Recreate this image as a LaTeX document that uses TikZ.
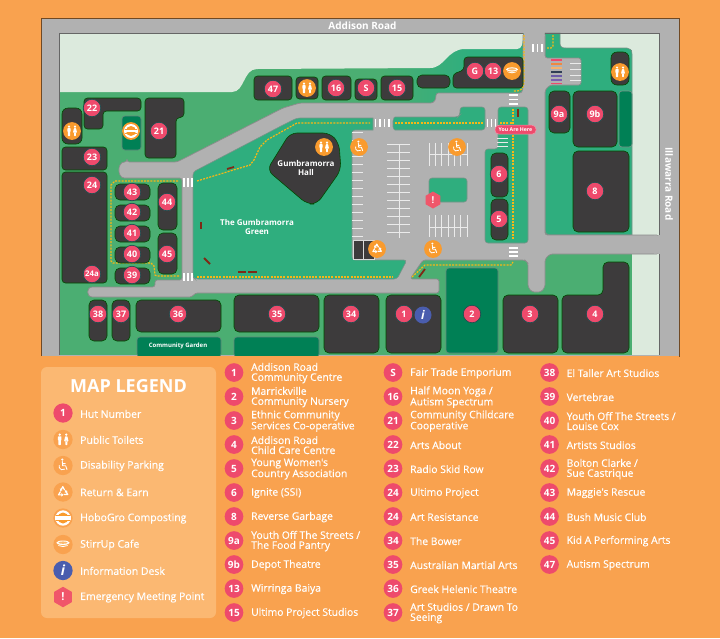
\documentclass[tikz,border=0pt]{standalone}
\usepackage{fontspec}
\setmainfont{Open Sans}
\newfontfamily\semi[FakeBold=0.45]{Open Sans}
\usetikzlibrary{shapes.geometric,arrows.meta,calc}
\definecolor{bgor}{HTML}{F9A24F}
\definecolor{panel}{HTML}{FBB872}
\definecolor{basegr}{HTML}{4BAE72}
\definecolor{tealgr}{HTML}{2FAE7E}
\definecolor{deepgr}{HTML}{008055}
\definecolor{palegr}{HTML}{DCEADD}
\definecolor{roadgr}{HTML}{B1B1B1}
\definecolor{edgegr}{HTML}{8C8C8C}
\definecolor{bldgc}{HTML}{3D3B3C}
\definecolor{pink}{HTML}{EE4A6C}
\definecolor{icor}{HTML}{F99B2E}
\definecolor{dashy}{HTML}{F7B716}
\definecolor{bench}{HTML}{7E2A16}
\definecolor{halo}{HTML}{1E4F50}
\definecolor{infob}{HTML}{4A5DAE}
\definecolor{hexr}{HTML}{F0566A}
\tikzset{
 roadsty/.style={fill=roadgr,draw=edgegr,line width=.7pt,rounded corners=2.5pt},
 greenblk/.style={fill=tealgr,draw=edgegr!80!tealgr,line width=.6pt,rounded corners=3pt},
 deepblk/.style={fill=deepgr,draw=edgegr!70!deepgr,line width=.6pt,rounded corners=3pt},
 bldg/.style={fill=bldgc,draw=black!70!green,line width=.6pt,rounded corners=3.5pt},
 parkline/.style={draw=white!92!black,line width=.7pt},
 zebra/.style={draw=white,line width=1.3pt},
 path dot/.style={draw=dashy,line width=1.2pt,dash pattern=on 2pt off 1.2pt},
 benchline/.style={draw=bench,line width=1.8pt},
 mapbadge/.style={circle,fill=pink,draw=halo,line width=.7pt,minimum size=17.5pt,inner sep=0pt,text=white,font=\fontsize{9}{9}\selectfont\bfseries},
 icobase/.style={circle,fill=icor,minimum size=#1,inner sep=0pt},
 listbadge/.style={circle,fill=pink,minimum size=18.7pt,inner sep=0pt,text=white,font=\fontsize{10}{10}\selectfont\bfseries},
 listtext/.style={anchor=west,align=left,inner sep=0pt,yshift=-.6pt,text=white,font=\fontsize{10.35}{10}\selectfont\semi},
 legtext/.style={anchor=west,inner sep=0pt,yshift=-.4pt,text=white,font=\fontsize{10.45}{10}\selectfont\semi},
 maptitle/.style={text=white,align=center,inner sep=0pt,font=\fontsize{#1}{#1}\selectfont\bfseries},
 pics/wc/.style={code={
   \fill[white] (-0.6,-5.4) circle (1.1);
   \draw[white,line width=.9pt,line join=round,line cap=round] (-0.6,-3.6) -- (-0.3,0.2) -- (2.4,0.2) -- (3.6,3.6) (-0.5,-1.7) -- (2,-1.7);
   \draw[white,line width=.8pt] (-3.4,-0.4) arc[start angle=200,end angle=50,radius=3.3];
 }},
 pics/toil/.style={code={
   \fill[white] (-3,-4.4) circle (1.15) (3,-4.4) circle (1.15);
   \fill[white,rounded corners=.5pt] (-4.6,-2.9) rectangle (-1.4,0.8) (-4.1,0.5) rectangle (-1.9,5);
   \fill[white,rounded corners=.5pt] (2,-2.9) -- (4,-2.9) -- (5,1.6) -- (1,1.6) -- cycle (2.1,1) rectangle (3.9,5);
 }},
 pics/rec/.style={code={
   \foreach \a in {0,120,240}{
    \begin{scope}[rotate=\a]
     \draw[white,line width=1.2pt,line join=round,-{Triangle[width=3.2pt,length=2pt]}] (-2.2,-0.5) -- (-4.1,2.6) -- (0.4,2.6);
    \end{scope}}
 }},
 pics/cup/.style={code={
   \fill[white] (-6,-1.6) .. controls (-5,3.6) and (5,3.6) .. (6,-1.6) -- cycle;
   \fill[white] (0,-1.6) ellipse (6 and 2);
   \fill[icor!70!white] (0,-1.7) ellipse (4.2 and 1.1);
   \draw[icor,line width=.5pt] (-5.8,-.6) .. controls (-3,1.4) and (3,1.4) .. (5.8,-.6);
 }},
 pics/hobo/.style={code={
   \fill[white] (0,0) circle (7);
   \fill[icor] (0,0) circle (5);
   \fill[white] (-7,-1.4) rectangle (7,1.4);
   \draw[icor,line width=.9pt] (-6.2,-2) -- (6.2,-2) (-6.2,2) -- (6.2,2);
 }},
}
\newcommand{\mbg}[3]{\node[mapbadge] (m#1) at (#2) {#3};}
\newcommand{\icn}[3]{\node[icobase=17.8pt] (i#1) at (#2) {}; \pic at (i#1.center) {#3};}
\newcommand{\rwl}[5]{\node[listbadge] (r#1) at (#2,#3) {#4}; \node[listtext] (t#1) at (#2+17,#3) {#5};}
\newcommand{\lgd}[3]{\node[legtext] (lt#1) at (80,#2) {#3};}
\begin{document}
\begin{tikzpicture}[x=1pt,y=-1pt]
\useasboundingbox (0,0) rectangle (720,638);
\fill[bgor] (0,0) rectangle (720,638);
% ring and base
\fill[roadgr,draw=black!55!bgor,line width=.6pt] (41,18) rectangle (679,356);
\fill[basegr] (59,33) rectangle (659,355);
\shade[left color=basegr,right color=tealgr] (380,40) rectangle (470,105);
\fill[tealgr] (470,40) rectangle (527,105);
% pale
\fill[palegr] (59.5,34) -- (59.5,92) -- (232,92) .. controls (245,92) and (243,69) .. (257,69) -- (430,68) .. controls (445,68) and (447,49) .. (465,49) -- (517,49) .. controls (522,49) and (523,44) .. (523,34) -- cycle;
\fill[palegr] (632,34) rectangle (659,355);
\fill[palegr] (545,34) rectangle (632,50);
% right teal block
\path[greenblk,sharp corners] (545,33) -- (560,33) -- (560,43) .. controls (560,47) and (562,48) .. (566,48) -- (627,48) .. controls (630,48) and (632,50) .. (632,54) -- (632,235) -- (550,235) .. controls (547,235) and (545,233) .. (545,230) -- (545,33) -- cycle;
% roads
\path[roadsty] (127,162) -- (177,162) -- (283,108) -- (300,103) -- (428,103) .. controls (434,103) and (436,100) .. (436,93) -- (517,93) .. controls (523,93) and (523,88) .. (523,82) -- (523,33) -- (545,33) -- (545,58) -- (581,58) -- (581,85) -- (550,85) -- (545,90) -- (545,235) -- (659,235) -- (659,254) -- (550,254) -- (545,259) -- (545,287) -- (541,292) -- (532,292) -- (528,287) -- (528,263) -- (525,260) -- (423,260) -- (410,279) -- (439,279) -- (439,293) -- (195,293) -- (192,297) -- (95,297) .. controls (86,297) and (86,287) .. (95,287) -- (155,287) -- (155,280) -- (182,280) -- (182,178) -- (127,178) .. controls (117,178) and (117,162) .. (127,162) -- cycle;
\fill[roadgr] (524,28) rectangle (544.6,36) (654,235.5) rectangle (664,253.5);
% inner border line of ring
\draw[black!60,line width=.7pt] (59,33) -- (523,33) (545,33) -- (659,33) -- (659,235) (659,254) -- (659,355) (59,33) -- (59,355);
% teal fields
\path[greenblk] (193,172) -- (283,125) -- (297,118) -- (370,118) .. controls (373,118) and (373,121) .. (373,124) .. controls (373,128) and (373,130) .. (370,130) -- (352,130) -- (352,260) -- (407,260) -- (397,279) -- (195,279) -- (193,277) -- cycle;
\path[greenblk] (393,124) .. controls (393,118) and (395,117) .. (398,117) -- (458,117) -- (460,115) -- (460,107) -- (485,107) -- (485,130) -- (398,130) .. controls (395,130) and (393,129) .. (393,124) -- cycle;
\path[greenblk] (498,107) -- (528,107) -- (528,243) -- (485,243) -- (485,149) -- (498,149) -- cycle;
\path[greenblk] (429,178) -- (467,178) -- (467,202) -- (429,202) -- cycle;
\path[greenblk,fill=deepgr] (619,91) rectangle (632,147);
\path[deepblk] (122,116) rectangle (141,150);
\path[deepblk] (446,268) rectangle (498,353);
\path[deepblk] (137,337) -- (137,357) -- (221,357) -- (221,337) -- cycle;
\path[deepblk] (234,337) -- (234,357) -- (319,357) -- (319,337) -- cycle;
\fill[bgor] (41,356.3) rectangle (679,362);
% parking
\foreach \y in {132,140,148,156,164,172,180,188,196,204,212,220,228,236} \draw[parkline] (352,\y) -- (363,\y);
\foreach \y in {144,152,160,168,176,184,192,200,208,216,224,232} \draw[parkline] (387,\y) -- (410,\y);
\draw[parkline] (399,144) -- (399,238);
\foreach \x in {429,435.3,441.6,448,454.3,460.6,467} {\draw[parkline] (\x,143) -- (\x,166); \draw[parkline] (\x,215) -- (\x,237);}
\draw[parkline] (429,154) -- (467,154) (429,227) -- (467,227);
\foreach \y in {138,142,146} \draw[parkline] (497,\y) -- (508,\y);
\foreach \y in {63,69,75,80.5} \draw[parkline] (570,\y) -- (581,\y);
\foreach \y/\c in {60/EE4A6C,64/F0883E,68/F6B26B,72/2F3E55,76/6A5AA8,80/7A5FB0,83.5/EE4A6C} {\definecolor{tmpc}{HTML}{\c}\draw[tmpc,line width=1.2pt] (551,\y) -- (562,\y);}
\fill[bldgc] (353.5,241) rectangle (374,259);
\draw[white!85!black,line width=.6pt] (353,240.5) rectangle (374.5,259.5) (363.7,240.5) -- (363.7,259.5);
% zebras
\foreach \x in {375.5,380,384.5,389} \draw[zebra] (\x,119) -- (\x,127);
\foreach \x in {487.5,491.5,495.5} \draw[zebra] (\x,119) -- (\x,127);
\foreach \x in {533,537.5,542} \draw[zebra] (\x,44) -- (\x,52);
\foreach \x in {184,188,192} {\draw[zebra] (\x,178) -- (\x,187); \draw[zebra] (\x,273) -- (\x,281);}
\foreach \y in {95,99.5,104} \draw[zebra] (509,\y) -- (518,\y);
\foreach \y in {248,252,256} \draw[zebra] (509,\y) -- (518,\y);
% dotted paths
\draw[path dot] (197,181) -- (250,165) -- (254,160) -- (260,147) -- (267,140) -- (297,123) -- (370,123);
\draw[path dot] (395,123) -- (483,123);
\draw[path dot] (500,123) -- (513,123);
\draw[path dot] (513,109) -- (513,240);
\draw[path dot] (524,35) -- (524,82) .. controls (524,88) and (521,91) .. (517,91) -- (513,91);
\draw[path dot] (553,35) -- (553,46) -- (551,48) -- (547,48);
\draw[path dot] (197,277) -- (393,277);
\draw[path dot] (178,181) -- (115,181) -- (111,185) -- (111,261) -- (113,263) -- (151,263) -- (154,266) -- (155,275) -- (157,276) -- (180,276);
\draw[path dot] (412,277) -- (425,265) -- (511,265) -- (513,262);
% benches
\draw[benchline] (227,169) -- (234,167);
\draw[benchline] (200.7,222) -- (200.7,229);
\draw[benchline] (204,258) -- (210,264);
\draw[benchline] (238,272) -- (246,272);
\draw[benchline] (248,272) -- (257,272);
\draw[benchline] (419,277) -- (425,269);
\draw[benchline,line width=2.2pt] (518,109) -- (518,117);
% buildings
\path[bldg] (254,76) rectangle (292,100);
\path[bldg] (296,77) rectangle (318,99);
\path[bldg] (322,76) rectangle (351,100);
\path[bldg] (355,79) rectangle (377,100);
\path[bldg] (381,76) rectangle (413,100);
\path[bldg,rounded corners=5pt] (417,75) rectangle (450,88);
\path[bldg] (464,57) -- (523,57) -- (523,88) -- (453,88) -- (453,74) -- (464,70) -- cycle;
\path[bldg] (84,98) -- (141,98) -- (141,111) -- (103,111) -- (103,129) -- (84,129) -- cycle;
\path[bldg,rounded corners=6pt] (62,108) rectangle (82,144);
\path[bldg] (62,147) rectangle (107,170);
\path[bldg] (62,172) rectangle (107,283);
\path[bldg] (145,98) -- (184,98) -- (184,117) -- (176,118) -- (176,158) -- (145,158) -- cycle;
\path[bldg,rounded corners=7pt] (290,133) -- (330,133) -- (339,143) -- (341,170) -- (317,204) -- (307,204) -- (267,170) -- cycle;
\foreach \y/\e in {184/200,205/221,226/242,247/263,268/284} \path[bldg,rounded corners=5pt] (115,\y) rectangle (150,\e);
\path[bldg,rounded corners=5pt] (158,183) rectangle (177,230);
\path[bldg,rounded corners=5pt] (158,233) rectangle (177,274);
\path[bldg,rounded corners=5pt] (89,300) rectangle (107,341);
\path[bldg,rounded corners=5pt] (112,300) rectangle (130,341);
\path[bldg,rounded corners=5pt] (136,300) rectangle (221,332);
\path[bldg,rounded corners=5pt] (234,295) rectangle (319,332);
\path[bldg,rounded corners=5pt] (324,295) rectangle (379,353);
\path[bldg,rounded corners=5pt] (386,295) rectangle (441,353);
\path[bldg,rounded corners=5pt] (503,295) rectangle (558,353);
\path[bldg,rounded corners=5pt] (562,295) -- (603,295) -- (603,262) -- (629,262) -- (629,353) -- (562,353) -- cycle;
\path[bldg,rounded corners=5pt] (491,153) rectangle (508,197);
\path[bldg,rounded corners=5pt] (491,199) rectangle (508,240);
\path[bldg,rounded corners=5pt] (549,91) rectangle (570,133);
\path[bldg,rounded corners=5pt] (573,91) rectangle (617,147);
\path[bldg,rounded corners=5pt] (573,151) rectangle (629,232);
\path[bldg,rounded corners=6pt] (611,52) rectangle (629,85);
% map labels
\node[maptitle=10] (addison) at (362.5,26) {Addison Road};
\node[maptitle=10,rotate=-90] (illa) at (669,184) {Illawarra Road};
\node[maptitle=8] (hall) at (306,167.5) {Gumbramorra\\[1pt]Hall};
\node[maptitle=8] (green) at (257,227) {The Gumbramorra\\[1.5pt]Green};
\node[maptitle=6] (cg) at (178,346) {Community Garden};
\node[rounded corners=4pt,fill=pink,draw=white!40!pink,line width=.5pt,minimum width=41pt,minimum height=9pt,inner sep=0pt,text=white,font=\fontsize{5.2}{6}\selectfont\bfseries] (here) at (515.5,129.7) {You Are Here};
% map badges
\mbg{47}{273,89}{47} \mbg{16}{336,88}{16} \mbg{S}{366,88}{S} \mbg{15}{397,88}{15}
\mbg{G}{475,71}{G} \mbg{13}{493,71}{13}
\mbg{22}{92,108}{22} \mbg{21}{159,131}{21} \mbg{23}{92,157}{23} \mbg{24}{92,185}{24} \mbg{24a}{92,274}{\fontsize{7.8}{8}\selectfont 24a}
\mbg{44}{167,202}{44} \mbg{45}{167,254}{45}
\mbg{43}{132,192}{43} \mbg{42}{132,212}{42} \mbg{41}{132,233}{41} \mbg{40}{132,254}{40} \mbg{39}{132,275}{39}
\mbg{38}{98,314}{38} \mbg{37}{121,314}{37} \mbg{36}{178,314}{36} \mbg{35}{277,314}{35} \mbg{34}{351,314}{34}
\mbg{1}{404,314}{1} \mbg{2}{472,314}{2} \mbg{3}{530,314}{3} \mbg{4}{595,314}{4}
\mbg{8}{595,191}{8} \mbg{5}{499,219}{5} \mbg{6}{499,174}{6} \mbg{9a}{559,114}{9a} \mbg{9b}{595,114}{9b}
\icn{t1}{307,88}{toil} \icn{t2}{72,131}{toil} \icn{t3}{324,147}{toil} \icn{t4}{620,72}{toil}
\icn{d1}{359,147}{wc} \icn{d2}{457,147}{wc} \icn{d3}{433,249}{wc}
\icn{rc}{377,249}{rec}
\icn{cp}{512,71}{cup}
\icn{hb}{131,131}{hobo}
\node[circle,fill=infob,minimum size=17pt,inner sep=0pt,text=white,font=\fontsize{12}{12}\selectfont\bfseries\itshape] (minfo) at (423,315) {i};
\node[regular polygon,regular polygon sides=6,shape border rotate=30,minimum size=17pt,inner sep=0pt,fill=hexr,text=white,font=\fontsize{9.5}{9.5}\selectfont\bfseries] (mex) at (433,200) {!};
% legend panel
\fill[panel,rounded corners=6pt] (41,367) rectangle (216,618);
\node[maptitle=18] (ltitle) at (128.5,386) {MAP LEGEND};
\node[listbadge,minimum size=19.3pt] (l1) at (63,413) {1};
\foreach \n/\y/\p in {toi/439.5/toil,dis/465.5/wc,ret/492/rec,hob/518/hobo,caf/544.5/cup}{
 \node[circle,fill=bgor,minimum size=19.3pt,inner sep=0pt] (l\n) at (63,\y) {};
 \pic[scale=1.1] at (l\n.center) {\p};
}
\node[circle,fill=infob,minimum size=19.3pt,inner sep=0pt,text=white,font=\fontsize{14}{14}\selectfont\bfseries\itshape] (linf) at (63,570.5) {i};
\node[regular polygon,regular polygon sides=6,shape border rotate=30,minimum size=20.5pt,inner sep=0pt,fill=hexr,text=white,font=\fontsize{11}{11}\selectfont\bfseries] (lex) at (63,597) {!};
\lgd{1}{413.5}{Hut Number}
\lgd{2}{439.5}{Public Toilets}
\lgd{3}{465.5}{Disability Parking}
\lgd{4}{492}{Return \& Earn}
\lgd{5}{518}{HoboGro Composting}
\lgd{6}{544.5}{StirrUp Cafe}
\lgd{7}{570.5}{Information Desk}
\lgd{8}{597}{Emergency Meeting Point}
% lists
\rwl{a1}{234}{372.5}{1}{Addison Road\\Community Centre}
\rwl{a2}{234}{396.5}{2}{Marrickville\\Community Nursery}
\rwl{a3}{234}{420.5}{3}{Ethnic Community\\Services Co-operative}
\rwl{a4}{234}{444.5}{4}{Addison Road\\Child Care Centre}
\rwl{a5}{234}{468.5}{5}{Young Women's\\Country Association}
\rwl{a6}{234}{492.5}{6}{Ignite (SSI)}
\rwl{a8}{234}{516.5}{8}{Reverse Garbage}
\rwl{a9}{234}{540.5}{9a}{Youth Off The Streets /\\The Food Pantry}
\rwl{a10}{234}{564.5}{9b}{Depot Theatre}
\rwl{a13}{234}{588.5}{13}{Wirringa Baiya}
\rwl{a15}{234}{612.5}{15}{Ultimo Project Studios}
\rwl{bS}{393}{372.5}{S}{Fair Trade Emporium}
\rwl{b16}{393}{396.5}{16}{Half Moon Yoga /\\Autism Spectrum}
\rwl{b21}{393}{420.5}{21}{Community Childcare\\Cooperative}
\rwl{b22}{393}{444.5}{22}{Arts About}
\rwl{b23}{393}{468.5}{23}{Radio Skid Row}
\rwl{b24}{393}{492.5}{24}{Ultimo Project}
\rwl{b25}{393}{516.5}{24}{Art Resistance}
\rwl{b34}{393}{540.5}{34}{The Bower}
\rwl{b35}{393}{564.5}{35}{Australian Martial Arts}
\rwl{b36}{393}{588.5}{36}{Greek Helenic Theatre}
\rwl{b37}{393}{612.5}{37}{Art Studios / Drawn To\\Seeing}
\rwl{c38}{549.5}{372.5}{38}{El Taller Art Studios}
\rwl{c39}{549.5}{396.5}{39}{Vertebrae}
\rwl{c40}{549.5}{420.5}{40}{Youth Off The Streets /\\Louise Cox}
\rwl{c41}{549.5}{444.5}{41}{Artists Studios}
\rwl{c42}{549.5}{468.5}{42}{Bolton Clarke /\\Sue Castrique}
\rwl{c43}{549.5}{492.5}{43}{Maggie's Rescue}
\rwl{c44}{549.5}{516.5}{44}{Bush Music Club}
\rwl{c45}{549.5}{540.5}{45}{Kid A Performing Arts}
\rwl{c47}{549.5}{564.5}{47}{Autism Spectrum}
\end{tikzpicture}
\end{document}
